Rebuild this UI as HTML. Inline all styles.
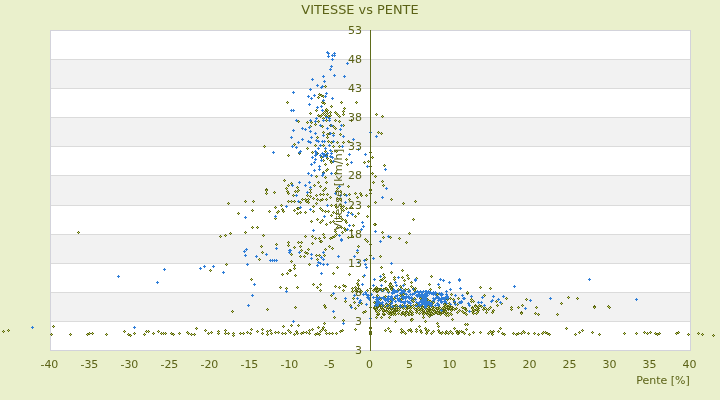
<!DOCTYPE html><html><head><meta charset="utf-8"><style>html,body{margin:0;padding:0;background:#EAF0CC;overflow:hidden}svg{display:block}</style></head><body><svg width="720" height="400" viewBox="0 0 720 400"><rect x="0" y="0" width="720" height="400" fill="#EAF0CC"/><rect x="50" y="30" width="641" height="321" fill="#ffffff"/><rect x="51" y="59" width="639" height="29" fill="#F2F2F2"/><rect x="51" y="117" width="639" height="29" fill="#F2F2F2"/><rect x="51" y="175" width="639" height="30" fill="#F2F2F2"/><rect x="51" y="234" width="639" height="29" fill="#F2F2F2"/><rect x="51" y="292" width="639" height="29" fill="#F2F2F2"/><rect x="51" y="59" width="639" height="1" fill="#DBDBDB"/><rect x="51" y="88" width="639" height="1" fill="#DBDBDB"/><rect x="51" y="117" width="639" height="1" fill="#DBDBDB"/><rect x="51" y="146" width="639" height="1" fill="#DBDBDB"/><rect x="51" y="175" width="639" height="1" fill="#DBDBDB"/><rect x="51" y="205" width="639" height="1" fill="#DBDBDB"/><rect x="51" y="234" width="639" height="1" fill="#DBDBDB"/><rect x="51" y="263" width="639" height="1" fill="#DBDBDB"/><rect x="51" y="292" width="639" height="1" fill="#DBDBDB"/><rect x="51" y="321" width="639" height="1" fill="#DBDBDB"/><rect x="50.5" y="30.5" width="640" height="320" fill="none" stroke="#D3D3DB" stroke-width="1"/><defs><g id="o"><path d="M-1 0h3v1h-3zM0 -1h1v3h-1z" fill="#5B6610"/><rect x="0" y="0" width="1" height="1" fill="#C8D76E"/></g><path id="b" d="M-1 0h3v1h-3zM0 -1h1v3h-1z" fill="#2F7ED8"/></defs><g shape-rendering="crispEdges"><use href="#o" x="325" y="86"/><use href="#o" x="319" y="94"/><use href="#o" x="321" y="95"/><use href="#o" x="318" y="97"/><use href="#o" x="323" y="96"/><use href="#o" x="322" y="102"/><use href="#o" x="324" y="103"/><use href="#o" x="341" y="102"/><use href="#o" x="356" y="102"/><use href="#o" x="331" y="106"/><use href="#o" x="344" y="108"/><use href="#o" x="343" y="111"/><use href="#o" x="343" y="114"/><use href="#o" x="316" y="110"/><use href="#o" x="310" y="113"/><use href="#o" x="326" y="109"/><use href="#o" x="327" y="110"/><use href="#o" x="325" y="111"/><use href="#o" x="330" y="112"/><use href="#o" x="323" y="113"/><use href="#o" x="327" y="113"/><use href="#o" x="330" y="115"/><use href="#o" x="321" y="115"/><use href="#o" x="318" y="115"/><use href="#o" x="325" y="115"/><use href="#o" x="328" y="116"/><use href="#o" x="335" y="112"/><use href="#o" x="336" y="113"/><use href="#o" x="337" y="114"/><use href="#o" x="339" y="116"/><use href="#o" x="320" y="116"/><use href="#o" x="323" y="118"/><use href="#o" x="326" y="120"/><use href="#o" x="335" y="120"/><use href="#o" x="339" y="121"/><use href="#o" x="351" y="120"/><use href="#o" x="376" y="114"/><use href="#o" x="298" y="121"/><use href="#o" x="307" y="122"/><use href="#o" x="311" y="122"/><use href="#o" x="318" y="121"/><use href="#o" x="315" y="124"/><use href="#o" x="310" y="126"/><use href="#o" x="322" y="126"/><use href="#o" x="330" y="125"/><use href="#o" x="333" y="126"/><use href="#o" x="335" y="128"/><use href="#o" x="343" y="125"/><use href="#o" x="323" y="132"/><use href="#o" x="327" y="134"/><use href="#o" x="329" y="133"/><use href="#o" x="327" y="137"/><use href="#o" x="317" y="137"/><use href="#o" x="340" y="134"/><use href="#o" x="333" y="133"/><use href="#o" x="378" y="132"/><use href="#o" x="287" y="102"/><use href="#o" x="294" y="144"/><use href="#o" x="307" y="148"/><use href="#o" x="315" y="145"/><use href="#o" x="323" y="145"/><use href="#o" x="328" y="141"/><use href="#o" x="331" y="142"/><use href="#o" x="333" y="146"/><use href="#o" x="337" y="142"/><use href="#o" x="343" y="142"/><use href="#o" x="348" y="141"/><use href="#o" x="339" y="146"/><use href="#o" x="312" y="152"/><use href="#o" x="317" y="153"/><use href="#o" x="325" y="151"/><use href="#o" x="331" y="151"/><use href="#o" x="299" y="153"/><use href="#o" x="326" y="155"/><use href="#o" x="321" y="157"/><use href="#o" x="330" y="160"/><use href="#o" x="323" y="160"/><use href="#o" x="327" y="158"/><use href="#o" x="336" y="151"/><use href="#o" x="346" y="159"/><use href="#o" x="347" y="164"/><use href="#o" x="331" y="162"/><use href="#o" x="325" y="164"/><use href="#o" x="327" y="169"/><use href="#o" x="326" y="170"/><use href="#o" x="323" y="172"/><use href="#o" x="335" y="173"/><use href="#o" x="316" y="176"/><use href="#o" x="325" y="177"/><use href="#o" x="318" y="182"/><use href="#o" x="326" y="182"/><use href="#o" x="320" y="186"/><use href="#o" x="314" y="185"/><use href="#o" x="291" y="183"/><use href="#o" x="297" y="187"/><use href="#o" x="310" y="189"/><use href="#o" x="325" y="188"/><use href="#o" x="337" y="188"/><use href="#o" x="348" y="186"/><use href="#o" x="364" y="162"/><use href="#o" x="368" y="161"/><use href="#o" x="372" y="157"/><use href="#o" x="372" y="173"/><use href="#o" x="375" y="176"/><use href="#o" x="373" y="182"/><use href="#o" x="370" y="152"/><use href="#o" x="370" y="166"/><use href="#o" x="370" y="189"/><use href="#o" x="264" y="146"/><use href="#o" x="288" y="155"/><use href="#o" x="284" y="180"/><use href="#o" x="288" y="185"/><use href="#o" x="286" y="188"/><use href="#o" x="266" y="189"/><use href="#o" x="295" y="191"/><use href="#o" x="297" y="191"/><use href="#o" x="298" y="190"/><use href="#o" x="310" y="192"/><use href="#o" x="323" y="190"/><use href="#o" x="336" y="191"/><use href="#o" x="340" y="191"/><use href="#o" x="293" y="195"/><use href="#o" x="307" y="195"/><use href="#o" x="310" y="196"/><use href="#o" x="316" y="195"/><use href="#o" x="320" y="194"/><use href="#o" x="323" y="194"/><use href="#o" x="327" y="194"/><use href="#o" x="344" y="194"/><use href="#o" x="349" y="194"/><use href="#o" x="355" y="193"/><use href="#o" x="360" y="193"/><use href="#o" x="361" y="195"/><use href="#o" x="366" y="195"/><use href="#o" x="291" y="201"/><use href="#o" x="294" y="201"/><use href="#o" x="302" y="199"/><use href="#o" x="305" y="199"/><use href="#o" x="308" y="199"/><use href="#o" x="313" y="198"/><use href="#o" x="317" y="199"/><use href="#o" x="320" y="200"/><use href="#o" x="322" y="199"/><use href="#o" x="326" y="199"/><use href="#o" x="330" y="197"/><use href="#o" x="337" y="198"/><use href="#o" x="340" y="199"/><use href="#o" x="349" y="199"/><use href="#o" x="357" y="197"/><use href="#o" x="375" y="202"/><use href="#o" x="300" y="202"/><use href="#o" x="306" y="201"/><use href="#o" x="308" y="202"/><use href="#o" x="316" y="203"/><use href="#o" x="335" y="205"/><use href="#o" x="340" y="205"/><use href="#o" x="343" y="206"/><use href="#o" x="368" y="206"/><use href="#o" x="294" y="210"/><use href="#o" x="297" y="208"/><use href="#o" x="298" y="208"/><use href="#o" x="313" y="206"/><use href="#o" x="320" y="208"/><use href="#o" x="322" y="210"/><use href="#o" x="325" y="211"/><use href="#o" x="328" y="211"/><use href="#o" x="331" y="205"/><use href="#o" x="336" y="207"/><use href="#o" x="341" y="208"/><use href="#o" x="343" y="210"/><use href="#o" x="346" y="208"/><use href="#o" x="351" y="207"/><use href="#o" x="297" y="213"/><use href="#o" x="300" y="212"/><use href="#o" x="305" y="212"/><use href="#o" x="313" y="211"/><use href="#o" x="333" y="212"/><use href="#o" x="336" y="213"/><use href="#o" x="331" y="215"/><use href="#o" x="339" y="216"/><use href="#o" x="351" y="213"/><use href="#o" x="355" y="216"/><use href="#o" x="358" y="213"/><use href="#o" x="367" y="216"/><use href="#o" x="311" y="221"/><use href="#o" x="317" y="219"/><use href="#o" x="320" y="222"/><use href="#o" x="322" y="220"/><use href="#o" x="326" y="224"/><use href="#o" x="330" y="222"/><use href="#o" x="333" y="221"/><use href="#o" x="345" y="220"/><use href="#o" x="346" y="222"/><use href="#o" x="342" y="219"/><use href="#o" x="375" y="224"/><use href="#o" x="353" y="225"/><use href="#o" x="337" y="227"/><use href="#o" x="341" y="227"/><use href="#o" x="344" y="228"/><use href="#o" x="345" y="230"/><use href="#o" x="342" y="232"/><use href="#o" x="335" y="231"/><use href="#o" x="336" y="234"/><use href="#o" x="334" y="236"/><use href="#o" x="332" y="237"/><use href="#o" x="330" y="238"/><use href="#o" x="305" y="236"/><use href="#o" x="312" y="236"/><use href="#o" x="315" y="238"/><use href="#o" x="323" y="234"/><use href="#o" x="324" y="237"/><use href="#o" x="319" y="238"/><use href="#o" x="351" y="230"/><use href="#o" x="352" y="236"/><use href="#o" x="348" y="237"/><use href="#o" x="365" y="239"/><use href="#o" x="266" y="190"/><use href="#o" x="266" y="193"/><use href="#o" x="274" y="192"/><use href="#o" x="287" y="191"/><use href="#o" x="288" y="193"/><use href="#o" x="228" y="203"/><use href="#o" x="245" y="201"/><use href="#o" x="253" y="201"/><use href="#o" x="288" y="201"/><use href="#o" x="275" y="207"/><use href="#o" x="281" y="205"/><use href="#o" x="282" y="209"/><use href="#o" x="283" y="211"/><use href="#o" x="269" y="211"/><use href="#o" x="278" y="211"/><use href="#o" x="277" y="212"/><use href="#o" x="252" y="210"/><use href="#o" x="238" y="213"/><use href="#o" x="275" y="218"/><use href="#o" x="252" y="227"/><use href="#o" x="257" y="227"/><use href="#o" x="230" y="233"/><use href="#o" x="225" y="235"/><use href="#o" x="220" y="236"/><use href="#o" x="245" y="232"/><use href="#o" x="263" y="235"/><use href="#o" x="298" y="242"/><use href="#o" x="301" y="242"/><use href="#o" x="312" y="243"/><use href="#o" x="320" y="241"/><use href="#o" x="321" y="241"/><use href="#o" x="367" y="241"/><use href="#o" x="294" y="247"/><use href="#o" x="300" y="246"/><use href="#o" x="301" y="250"/><use href="#o" x="308" y="249"/><use href="#o" x="305" y="252"/><use href="#o" x="307" y="253"/><use href="#o" x="300" y="256"/><use href="#o" x="304" y="256"/><use href="#o" x="316" y="255"/><use href="#o" x="319" y="255"/><use href="#o" x="317" y="259"/><use href="#o" x="324" y="255"/><use href="#o" x="325" y="249"/><use href="#o" x="329" y="246"/><use href="#o" x="332" y="248"/><use href="#o" x="358" y="246"/><use href="#o" x="357" y="252"/><use href="#o" x="366" y="259"/><use href="#o" x="370" y="244"/><use href="#o" x="370" y="255"/><use href="#o" x="291" y="254"/><use href="#o" x="291" y="261"/><use href="#o" x="294" y="265"/><use href="#o" x="294" y="268"/><use href="#o" x="290" y="270"/><use href="#o" x="309" y="264"/><use href="#o" x="337" y="267"/><use href="#o" x="333" y="273"/><use href="#o" x="349" y="274"/><use href="#o" x="295" y="275"/><use href="#o" x="363" y="276"/><use href="#o" x="358" y="280"/><use href="#o" x="357" y="283"/><use href="#o" x="358" y="285"/><use href="#o" x="313" y="284"/><use href="#o" x="320" y="284"/><use href="#o" x="317" y="287"/><use href="#o" x="297" y="287"/><use href="#o" x="335" y="286"/><use href="#o" x="339" y="287"/><use href="#o" x="343" y="285"/><use href="#o" x="345" y="286"/><use href="#o" x="352" y="288"/><use href="#o" x="355" y="287"/><use href="#o" x="358" y="288"/><use href="#o" x="370" y="288"/><use href="#o" x="377" y="288"/><use href="#o" x="226" y="264"/><use href="#o" x="210" y="270"/><use href="#o" x="261" y="246"/><use href="#o" x="276" y="244"/><use href="#o" x="262" y="252"/><use href="#o" x="259" y="259"/><use href="#o" x="251" y="279"/><use href="#o" x="282" y="274"/><use href="#o" x="287" y="273"/><use href="#o" x="289" y="270"/><use href="#o" x="280" y="287"/><use href="#o" x="286" y="288"/><use href="#o" x="288" y="242"/><use href="#o" x="288" y="245"/><use href="#o" x="295" y="307"/><use href="#o" x="324" y="305"/><use href="#o" x="325" y="307"/><use href="#o" x="331" y="295"/><use href="#o" x="335" y="298"/><use href="#o" x="345" y="301"/><use href="#o" x="334" y="317"/><use href="#o" x="343" y="320"/><use href="#o" x="352" y="291"/><use href="#o" x="355" y="290"/><use href="#o" x="357" y="291"/><use href="#o" x="360" y="292"/><use href="#o" x="361" y="291"/><use href="#o" x="353" y="298"/><use href="#o" x="354" y="302"/><use href="#o" x="358" y="305"/><use href="#o" x="361" y="303"/><use href="#o" x="350" y="305"/><use href="#o" x="355" y="308"/><use href="#o" x="363" y="312"/><use href="#o" x="365" y="311"/><use href="#o" x="376" y="317"/><use href="#o" x="370" y="307"/><use href="#o" x="370" y="328"/><use href="#o" x="370" y="332"/><use href="#o" x="370" y="334"/><use href="#o" x="376" y="291"/><use href="#o" x="377" y="295"/><use href="#o" x="377" y="307"/><use href="#o" x="291" y="325"/><use href="#o" x="298" y="325"/><use href="#o" x="324" y="323"/><use href="#o" x="318" y="327"/><use href="#o" x="323" y="327"/><use href="#o" x="290" y="332"/><use href="#o" x="294" y="334"/><use href="#o" x="296" y="331"/><use href="#o" x="297" y="333"/><use href="#o" x="301" y="333"/><use href="#o" x="303" y="332"/><use href="#o" x="306" y="332"/><use href="#o" x="309" y="330"/><use href="#o" x="309" y="333"/><use href="#o" x="312" y="329"/><use href="#o" x="315" y="334"/><use href="#o" x="317" y="333"/><use href="#o" x="319" y="334"/><use href="#o" x="320" y="331"/><use href="#o" x="322" y="329"/><use href="#o" x="325" y="330"/><use href="#o" x="326" y="333"/><use href="#o" x="329" y="333"/><use href="#o" x="332" y="333"/><use href="#o" x="336" y="333"/><use href="#o" x="340" y="331"/><use href="#o" x="342" y="330"/><use href="#o" x="355" y="329"/><use href="#o" x="320" y="290"/><use href="#o" x="343" y="290"/><use href="#o" x="232" y="311"/><use href="#o" x="267" y="309"/><use href="#o" x="205" y="330"/><use href="#o" x="208" y="333"/><use href="#o" x="211" y="332"/><use href="#o" x="218" y="331"/><use href="#o" x="218" y="333"/><use href="#o" x="225" y="330"/><use href="#o" x="225" y="333"/><use href="#o" x="228" y="333"/><use href="#o" x="233" y="333"/><use href="#o" x="233" y="335"/><use href="#o" x="240" y="333"/><use href="#o" x="243" y="333"/><use href="#o" x="247" y="332"/><use href="#o" x="250" y="333"/><use href="#o" x="251" y="329"/><use href="#o" x="257" y="331"/><use href="#o" x="262" y="329"/><use href="#o" x="262" y="333"/><use href="#o" x="267" y="331"/><use href="#o" x="267" y="334"/><use href="#o" x="270" y="330"/><use href="#o" x="271" y="333"/><use href="#o" x="275" y="332"/><use href="#o" x="278" y="332"/><use href="#o" x="282" y="333"/><use href="#o" x="285" y="333"/><use href="#o" x="283" y="326"/><use href="#o" x="288" y="330"/><use href="#o" x="406" y="242"/><use href="#o" x="380" y="256"/><use href="#o" x="381" y="267"/><use href="#o" x="391" y="272"/><use href="#o" x="402" y="270"/><use href="#o" x="383" y="274"/><use href="#o" x="384" y="277"/><use href="#o" x="382" y="279"/><use href="#o" x="380" y="280"/><use href="#o" x="385" y="281"/><use href="#o" x="394" y="277"/><use href="#o" x="394" y="279"/><use href="#o" x="402" y="277"/><use href="#o" x="407" y="275"/><use href="#o" x="408" y="278"/><use href="#o" x="404" y="280"/><use href="#o" x="416" y="278"/><use href="#o" x="431" y="276"/><use href="#o" x="411" y="282"/><use href="#o" x="390" y="283"/><use href="#o" x="389" y="285"/><use href="#o" x="392" y="286"/><use href="#o" x="391" y="288"/><use href="#o" x="404" y="284"/><use href="#o" x="400" y="286"/><use href="#o" x="411" y="286"/><use href="#o" x="413" y="288"/><use href="#o" x="429" y="284"/><use href="#o" x="439" y="287"/><use href="#o" x="430" y="289"/><use href="#o" x="383" y="289"/><use href="#o" x="381" y="289"/><use href="#o" x="408" y="289"/><use href="#o" x="480" y="287"/><use href="#o" x="490" y="288"/><use href="#o" x="467" y="293"/><use href="#o" x="484" y="295"/><use href="#o" x="471" y="299"/><use href="#o" x="471" y="301"/><use href="#o" x="506" y="298"/><use href="#o" x="496" y="301"/><use href="#o" x="497" y="305"/><use href="#o" x="501" y="303"/><use href="#o" x="526" y="299"/><use href="#o" x="522" y="305"/><use href="#o" x="518" y="307"/><use href="#o" x="511" y="307"/><use href="#o" x="511" y="309"/><use href="#o" x="536" y="307"/><use href="#o" x="521" y="312"/><use href="#o" x="521" y="313"/><use href="#o" x="535" y="313"/><use href="#o" x="538" y="314"/><use href="#o" x="462" y="307"/><use href="#o" x="464" y="308"/><use href="#o" x="465" y="308"/><use href="#o" x="462" y="311"/><use href="#o" x="465" y="313"/><use href="#o" x="472" y="307"/><use href="#o" x="473" y="309"/><use href="#o" x="475" y="305"/><use href="#o" x="478" y="306"/><use href="#o" x="476" y="309"/><use href="#o" x="478" y="308"/><use href="#o" x="481" y="306"/><use href="#o" x="483" y="309"/><use href="#o" x="484" y="307"/><use href="#o" x="486" y="309"/><use href="#o" x="490" y="307"/><use href="#o" x="488" y="309"/><use href="#o" x="486" y="312"/><use href="#o" x="493" y="310"/><use href="#o" x="492" y="312"/><use href="#o" x="472" y="311"/><use href="#o" x="476" y="313"/><use href="#o" x="473" y="313"/><use href="#o" x="477" y="312"/><use href="#o" x="568" y="297"/><use href="#o" x="577" y="298"/><use href="#o" x="561" y="303"/><use href="#o" x="594" y="306"/><use href="#o" x="594" y="307"/><use href="#o" x="608" y="306"/><use href="#o" x="609" y="307"/><use href="#o" x="557" y="314"/><use href="#o" x="566" y="328"/><use href="#o" x="542" y="333"/><use href="#o" x="545" y="332"/><use href="#o" x="547" y="333"/><use href="#o" x="549" y="334"/><use href="#o" x="575" y="334"/><use href="#o" x="579" y="332"/><use href="#o" x="582" y="330"/><use href="#o" x="592" y="332"/><use href="#o" x="599" y="334"/><use href="#o" x="624" y="333"/><use href="#o" x="636" y="333"/><use href="#o" x="644" y="332"/><use href="#o" x="647" y="333"/><use href="#o" x="650" y="332"/><use href="#o" x="655" y="333"/><use href="#o" x="657" y="334"/><use href="#o" x="659" y="333"/><use href="#o" x="676" y="333"/><use href="#o" x="678" y="332"/><use href="#o" x="688" y="334"/><use href="#o" x="698" y="333"/><use href="#o" x="702" y="334"/><use href="#o" x="713" y="335"/><use href="#o" x="376" y="317"/><use href="#o" x="381" y="317"/><use href="#o" x="389" y="317"/><use href="#o" x="405" y="315"/><use href="#o" x="429" y="316"/><use href="#o" x="446" y="315"/><use href="#o" x="423" y="317"/><use href="#o" x="411" y="319"/><use href="#o" x="412" y="319"/><use href="#o" x="425" y="321"/><use href="#o" x="452" y="319"/><use href="#o" x="395" y="321"/><use href="#o" x="437" y="323"/><use href="#o" x="385" y="330"/><use href="#o" x="388" y="328"/><use href="#o" x="390" y="331"/><use href="#o" x="401" y="329"/><use href="#o" x="401" y="332"/><use href="#o" x="403" y="331"/><use href="#o" x="405" y="333"/><use href="#o" x="408" y="330"/><use href="#o" x="410" y="329"/><use href="#o" x="411" y="331"/><use href="#o" x="416" y="329"/><use href="#o" x="416" y="331"/><use href="#o" x="419" y="326"/><use href="#o" x="420" y="330"/><use href="#o" x="421" y="332"/><use href="#o" x="425" y="328"/><use href="#o" x="426" y="330"/><use href="#o" x="427" y="331"/><use href="#o" x="426" y="333"/><use href="#o" x="428" y="330"/><use href="#o" x="431" y="333"/><use href="#o" x="433" y="331"/><use href="#o" x="438" y="326"/><use href="#o" x="438" y="330"/><use href="#o" x="439" y="332"/><use href="#o" x="441" y="333"/><use href="#o" x="442" y="332"/><use href="#o" x="445" y="333"/><use href="#o" x="446" y="331"/><use href="#o" x="448" y="333"/><use href="#o" x="450" y="331"/><use href="#o" x="452" y="333"/><use href="#o" x="454" y="328"/><use href="#o" x="457" y="331"/><use href="#o" x="458" y="333"/><use href="#o" x="465" y="324"/><use href="#o" x="467" y="324"/><use href="#o" x="466" y="329"/><use href="#o" x="456" y="331"/><use href="#o" x="457" y="333"/><use href="#o" x="459" y="331"/><use href="#o" x="461" y="331"/><use href="#o" x="463" y="332"/><use href="#o" x="464" y="333"/><use href="#o" x="469" y="334"/><use href="#o" x="473" y="332"/><use href="#o" x="480" y="332"/><use href="#o" x="488" y="333"/><use href="#o" x="490" y="331"/><use href="#o" x="491" y="332"/><use href="#o" x="492" y="334"/><use href="#o" x="493" y="331"/><use href="#o" x="498" y="331"/><use href="#o" x="500" y="328"/><use href="#o" x="502" y="333"/><use href="#o" x="504" y="334"/><use href="#o" x="513" y="333"/><use href="#o" x="516" y="334"/><use href="#o" x="518" y="333"/><use href="#o" x="521" y="333"/><use href="#o" x="523" y="331"/><use href="#o" x="524" y="332"/><use href="#o" x="528" y="333"/><use href="#o" x="534" y="333"/><use href="#o" x="538" y="334"/><use href="#o" x="542" y="333"/><use href="#o" x="543" y="332"/><use href="#o" x="78" y="232"/><use href="#o" x="3" y="331"/><use href="#o" x="8" y="330"/><use href="#o" x="53" y="326"/><use href="#o" x="51" y="334"/><use href="#o" x="70" y="334"/><use href="#o" x="87" y="334"/><use href="#o" x="89" y="333"/><use href="#o" x="92" y="333"/><use href="#o" x="106" y="334"/><use href="#o" x="124" y="331"/><use href="#o" x="128" y="334"/><use href="#o" x="130" y="335"/><use href="#o" x="134" y="333"/><use href="#o" x="144" y="334"/><use href="#o" x="146" y="331"/><use href="#o" x="148" y="331"/><use href="#o" x="153" y="333"/><use href="#o" x="158" y="331"/><use href="#o" x="161" y="333"/><use href="#o" x="163" y="333"/><use href="#o" x="165" y="333"/><use href="#o" x="171" y="333"/><use href="#o" x="173" y="334"/><use href="#o" x="179" y="333"/><use href="#o" x="187" y="332"/><use href="#o" x="188" y="333"/><use href="#o" x="191" y="334"/><use href="#o" x="194" y="334"/><use href="#o" x="196" y="328"/><use href="#o" x="382" y="116"/><use href="#o" x="381" y="133"/><use href="#o" x="384" y="165"/><use href="#o" x="382" y="181"/><use href="#o" x="383" y="185"/><use href="#o" x="391" y="199"/><use href="#o" x="370" y="190"/><use href="#o" x="370" y="193"/><use href="#o" x="403" y="203"/><use href="#o" x="415" y="201"/><use href="#o" x="413" y="219"/><use href="#o" x="374" y="224"/><use href="#o" x="382" y="232"/><use href="#o" x="409" y="233"/><use href="#o" x="383" y="237"/><use href="#o" x="390" y="237"/><use href="#o" x="399" y="238"/><use href="#o" x="406" y="242"/><use href="#o" x="429" y="284"/><use href="#o" x="439" y="287"/><use href="#o" x="430" y="289"/><use href="#o" x="451" y="294"/><use href="#o" x="467" y="292"/><use href="#o" x="480" y="287"/><use href="#o" x="426" y="298"/><use href="#o" x="428" y="300"/><use href="#o" x="430" y="301"/><use href="#o" x="432" y="303"/><use href="#o" x="422" y="306"/><use href="#o" x="421" y="309"/><use href="#o" x="423" y="310"/><use href="#o" x="425" y="308"/><use href="#o" x="427" y="310"/><use href="#o" x="429" y="309"/><use href="#o" x="424" y="312"/><use href="#o" x="428" y="312"/><use href="#o" x="430" y="314"/><use href="#o" x="433" y="310"/><use href="#o" x="435" y="311"/><use href="#o" x="436" y="308"/><use href="#o" x="437" y="313"/><use href="#o" x="439" y="309"/><use href="#o" x="440" y="312"/><use href="#o" x="443" y="307"/><use href="#o" x="445" y="310"/><use href="#o" x="446" y="312"/><use href="#o" x="447" y="308"/><use href="#o" x="448" y="315"/><use href="#o" x="446" y="306"/><use href="#o" x="449" y="303"/><use href="#o" x="447" y="299"/><use href="#o" x="450" y="298"/><use href="#o" x="453" y="299"/><use href="#o" x="454" y="302"/><use href="#o" x="457" y="304"/><use href="#o" x="458" y="298"/><use href="#o" x="452" y="307"/><use href="#o" x="454" y="309"/><use href="#o" x="456" y="308"/><use href="#o" x="457" y="312"/><use href="#o" x="459" y="310"/><use href="#o" x="462" y="307"/><use href="#o" x="464" y="308"/><use href="#o" x="463" y="312"/><use href="#o" x="466" y="310"/><use href="#o" x="466" y="314"/><use href="#o" x="471" y="299"/><use href="#o" x="473" y="301"/><use href="#o" x="472" y="308"/><use href="#o" x="474" y="310"/><use href="#o" x="475" y="306"/><use href="#o" x="476" y="313"/><use href="#o" x="477" y="308"/><use href="#o" x="479" y="305"/><use href="#o" x="478" y="310"/><use href="#o" x="423" y="317"/><use href="#o" x="452" y="319"/><use href="#o" x="422" y="303"/><use href="#o" x="426" y="301"/><use href="#o" x="390" y="284"/><use href="#o" x="392" y="286"/><use href="#o" x="377" y="289"/><use href="#o" x="380" y="289"/><use href="#o" x="384" y="289"/><use href="#o" x="400" y="286"/><use href="#o" x="401" y="288"/><use href="#o" x="404" y="284"/><use href="#o" x="411" y="282"/><use href="#o" x="411" y="286"/><use href="#o" x="415" y="288"/><use href="#o" x="367" y="290"/><use href="#o" x="376" y="317"/><use href="#o" x="381" y="317"/><use href="#o" x="389" y="317"/><use href="#o" x="384" y="314"/><use href="#o" x="383" y="311"/><use href="#o" x="423" y="317"/><use href="#o" x="395" y="321"/><use href="#o" x="411" y="320"/><use href="#o" x="412" y="319"/><use href="#o" x="370" y="327"/><use href="#o" x="370" y="328"/><use href="#o" x="370" y="331"/><use href="#o" x="370" y="332"/><use href="#o" x="370" y="333"/><use href="#o" x="370" y="334"/><use href="#o" x="432" y="313"/><use href="#o" x="383" y="314"/><use href="#o" x="429" y="314"/><use href="#o" x="396" y="308"/><use href="#o" x="404" y="314"/><use href="#o" x="419" y="308"/><use href="#o" x="407" y="307"/><use href="#o" x="377" y="306"/><use href="#o" x="439" y="307"/><use href="#o" x="446" y="307"/><use href="#o" x="394" y="310"/><use href="#o" x="388" y="308"/><use href="#o" x="448" y="313"/><use href="#o" x="437" y="311"/><use href="#o" x="445" y="314"/><use href="#o" x="416" y="312"/><use href="#o" x="377" y="312"/><use href="#o" x="409" y="312"/><use href="#o" x="424" y="307"/><use href="#o" x="377" y="314"/><use href="#o" x="383" y="309"/><use href="#o" x="400" y="307"/><use href="#o" x="431" y="314"/><use href="#o" x="394" y="311"/><use href="#o" x="397" y="310"/><use href="#o" x="404" y="306"/><use href="#o" x="386" y="307"/><use href="#o" x="444" y="309"/><use href="#o" x="391" y="314"/><use href="#o" x="451" y="309"/><use href="#o" x="384" y="306"/><use href="#o" x="381" y="308"/><use href="#o" x="381" y="307"/><use href="#o" x="394" y="310"/><use href="#o" x="443" y="312"/><use href="#o" x="406" y="309"/><use href="#o" x="414" y="308"/><use href="#o" x="400" y="305"/><use href="#o" x="395" y="314"/><use href="#o" x="383" y="310"/><use href="#o" x="423" y="313"/><use href="#o" x="390" y="307"/><use href="#o" x="393" y="308"/><use href="#o" x="408" y="314"/><use href="#o" x="440" y="313"/><use href="#o" x="375" y="305"/><use href="#o" x="429" y="313"/><use href="#o" x="410" y="310"/><use href="#o" x="374" y="308"/><use href="#o" x="446" y="313"/><use href="#o" x="440" y="314"/><use href="#o" x="393" y="306"/><use href="#o" x="386" y="310"/><use href="#o" x="427" y="314"/><use href="#o" x="430" y="311"/><use href="#o" x="433" y="309"/><use href="#o" x="417" y="305"/><use href="#o" x="435" y="307"/><use href="#o" x="445" y="311"/><use href="#o" x="397" y="306"/><use href="#o" x="393" y="311"/><use href="#o" x="428" y="306"/><use href="#o" x="379" y="310"/><use href="#o" x="419" y="308"/><use href="#o" x="391" y="311"/><use href="#o" x="374" y="308"/><use href="#o" x="409" y="314"/><use href="#o" x="424" y="313"/><use href="#o" x="411" y="307"/><use href="#o" x="393" y="314"/><use href="#o" x="428" y="308"/><use href="#o" x="375" y="309"/><use href="#o" x="426" y="309"/><use href="#o" x="394" y="311"/><use href="#o" x="446" y="307"/><use href="#o" x="376" y="308"/><use href="#o" x="406" y="311"/><use href="#o" x="389" y="312"/><use href="#o" x="431" y="310"/><use href="#o" x="390" y="314"/><use href="#o" x="398" y="313"/><use href="#o" x="392" y="307"/><use href="#o" x="433" y="307"/><use href="#o" x="448" y="309"/><use href="#o" x="388" y="307"/><use href="#o" x="406" y="311"/><use href="#o" x="448" y="306"/><use href="#o" x="404" y="307"/><use href="#o" x="449" y="306"/><use href="#o" x="378" y="305"/><use href="#o" x="404" y="313"/><use href="#o" x="442" y="312"/><use href="#o" x="451" y="314"/><use href="#o" x="399" y="306"/><use href="#o" x="446" y="312"/><use href="#o" x="376" y="311"/><use href="#o" x="403" y="308"/><use href="#o" x="399" y="306"/><use href="#o" x="374" y="307"/><use href="#o" x="401" y="314"/><use href="#o" x="383" y="314"/><use href="#o" x="390" y="308"/><use href="#o" x="438" y="313"/><use href="#o" x="407" y="305"/><use href="#o" x="410" y="308"/><use href="#o" x="445" y="306"/><use href="#o" x="402" y="313"/><use href="#o" x="376" y="309"/><use href="#o" x="437" y="312"/><use href="#o" x="377" y="305"/><use href="#o" x="378" y="314"/><use href="#o" x="394" y="312"/><use href="#o" x="444" y="308"/><use href="#o" x="395" y="314"/><use href="#o" x="422" y="307"/><use href="#o" x="429" y="308"/><use href="#o" x="395" y="305"/><use href="#o" x="432" y="314"/><use href="#o" x="423" y="314"/><use href="#o" x="375" y="307"/><use href="#o" x="411" y="314"/><use href="#o" x="448" y="308"/><use href="#o" x="393" y="309"/><use href="#o" x="412" y="314"/><use href="#o" x="388" y="313"/><use href="#o" x="431" y="313"/><use href="#o" x="434" y="311"/><use href="#o" x="399" y="308"/><use href="#o" x="402" y="312"/><use href="#o" x="380" y="306"/><use href="#o" x="432" y="307"/><use href="#o" x="379" y="305"/><use href="#o" x="417" y="308"/><use href="#o" x="450" y="313"/><use href="#o" x="451" y="307"/><use href="#o" x="380" y="305"/><use href="#o" x="412" y="312"/><use href="#o" x="408" y="307"/><use href="#o" x="406" y="311"/><use href="#o" x="426" y="312"/><use href="#o" x="440" y="311"/><use href="#o" x="383" y="313"/><use href="#o" x="396" y="310"/><use href="#o" x="403" y="312"/><use href="#o" x="389" y="307"/><use href="#o" x="393" y="306"/><use href="#o" x="442" y="310"/><use href="#o" x="399" y="308"/><use href="#o" x="451" y="310"/><use href="#o" x="392" y="313"/><use href="#b" x="327" y="52"/><use href="#b" x="328" y="53"/><use href="#b" x="328" y="56"/><use href="#b" x="334" y="53"/><use href="#b" x="332" y="55"/><use href="#b" x="334" y="55"/><use href="#b" x="332" y="59"/><use href="#b" x="347" y="63"/><use href="#b" x="331" y="66"/><use href="#b" x="330" y="69"/><use href="#b" x="323" y="76"/><use href="#b" x="334" y="75"/><use href="#b" x="344" y="76"/><use href="#b" x="312" y="79"/><use href="#b" x="324" y="81"/><use href="#b" x="317" y="85"/><use href="#b" x="322" y="86"/><use href="#b" x="321" y="87"/><use href="#b" x="310" y="89"/><use href="#b" x="293" y="92"/><use href="#b" x="308" y="96"/><use href="#b" x="314" y="95"/><use href="#b" x="311" y="98"/><use href="#b" x="326" y="93"/><use href="#b" x="325" y="96"/><use href="#b" x="332" y="98"/><use href="#b" x="323" y="100"/><use href="#b" x="309" y="104"/><use href="#b" x="321" y="106"/><use href="#b" x="317" y="107"/><use href="#b" x="322" y="110"/><use href="#b" x="291" y="110"/><use href="#b" x="293" y="110"/><use href="#b" x="326" y="117"/><use href="#b" x="329" y="118"/><use href="#b" x="316" y="118"/><use href="#b" x="323" y="120"/><use href="#b" x="329" y="120"/><use href="#b" x="296" y="120"/><use href="#b" x="310" y="120"/><use href="#b" x="315" y="121"/><use href="#b" x="320" y="125"/><use href="#b" x="309" y="127"/><use href="#b" x="302" y="128"/><use href="#b" x="305" y="129"/><use href="#b" x="293" y="130"/><use href="#b" x="327" y="128"/><use href="#b" x="331" y="125"/><use href="#b" x="341" y="125"/><use href="#b" x="340" y="129"/><use href="#b" x="310" y="131"/><use href="#b" x="315" y="133"/><use href="#b" x="330" y="133"/><use href="#b" x="323" y="135"/><use href="#b" x="333" y="135"/><use href="#b" x="343" y="136"/><use href="#b" x="311" y="137"/><use href="#b" x="302" y="139"/><use href="#b" x="291" y="137"/><use href="#b" x="353" y="139"/><use href="#b" x="370" y="132"/><use href="#b" x="376" y="136"/><use href="#b" x="298" y="142"/><use href="#b" x="308" y="141"/><use href="#b" x="310" y="142"/><use href="#b" x="316" y="140"/><use href="#b" x="318" y="141"/><use href="#b" x="322" y="141"/><use href="#b" x="324" y="141"/><use href="#b" x="333" y="141"/><use href="#b" x="292" y="146"/><use href="#b" x="296" y="147"/><use href="#b" x="320" y="145"/><use href="#b" x="329" y="145"/><use href="#b" x="342" y="146"/><use href="#b" x="318" y="148"/><use href="#b" x="325" y="148"/><use href="#b" x="330" y="150"/><use href="#b" x="300" y="151"/><use href="#b" x="299" y="152"/><use href="#b" x="315" y="151"/><use href="#b" x="316" y="153"/><use href="#b" x="315" y="155"/><use href="#b" x="322" y="153"/><use href="#b" x="324" y="154"/><use href="#b" x="327" y="153"/><use href="#b" x="331" y="153"/><use href="#b" x="320" y="155"/><use href="#b" x="323" y="156"/><use href="#b" x="326" y="156"/><use href="#b" x="330" y="156"/><use href="#b" x="332" y="157"/><use href="#b" x="312" y="157"/><use href="#b" x="315" y="159"/><use href="#b" x="321" y="160"/><use href="#b" x="314" y="162"/><use href="#b" x="333" y="161"/><use href="#b" x="311" y="164"/><use href="#b" x="319" y="166"/><use href="#b" x="319" y="169"/><use href="#b" x="314" y="170"/><use href="#b" x="331" y="173"/><use href="#b" x="308" y="173"/><use href="#b" x="311" y="175"/><use href="#b" x="323" y="173"/><use href="#b" x="322" y="175"/><use href="#b" x="349" y="154"/><use href="#b" x="351" y="162"/><use href="#b" x="358" y="149"/><use href="#b" x="365" y="154"/><use href="#b" x="367" y="166"/><use href="#b" x="299" y="182"/><use href="#b" x="309" y="182"/><use href="#b" x="305" y="185"/><use href="#b" x="310" y="187"/><use href="#b" x="292" y="185"/><use href="#b" x="339" y="186"/><use href="#b" x="273" y="152"/><use href="#b" x="307" y="192"/><use href="#b" x="296" y="195"/><use href="#b" x="298" y="201"/><use href="#b" x="300" y="207"/><use href="#b" x="310" y="209"/><use href="#b" x="327" y="205"/><use href="#b" x="335" y="193"/><use href="#b" x="340" y="195"/><use href="#b" x="346" y="195"/><use href="#b" x="345" y="202"/><use href="#b" x="348" y="212"/><use href="#b" x="347" y="215"/><use href="#b" x="352" y="214"/><use href="#b" x="324" y="216"/><use href="#b" x="362" y="222"/><use href="#b" x="363" y="226"/><use href="#b" x="361" y="229"/><use href="#b" x="349" y="225"/><use href="#b" x="347" y="229"/><use href="#b" x="313" y="230"/><use href="#b" x="339" y="235"/><use href="#b" x="341" y="239"/><use href="#b" x="375" y="231"/><use href="#b" x="245" y="217"/><use href="#b" x="275" y="216"/><use href="#b" x="286" y="206"/><use href="#b" x="299" y="252"/><use href="#b" x="290" y="250"/><use href="#b" x="311" y="254"/><use href="#b" x="311" y="258"/><use href="#b" x="323" y="252"/><use href="#b" x="321" y="257"/><use href="#b" x="323" y="259"/><use href="#b" x="318" y="262"/><use href="#b" x="320" y="263"/><use href="#b" x="317" y="265"/><use href="#b" x="323" y="264"/><use href="#b" x="327" y="264"/><use href="#b" x="321" y="273"/><use href="#b" x="338" y="256"/><use href="#b" x="354" y="256"/><use href="#b" x="357" y="250"/><use href="#b" x="358" y="262"/><use href="#b" x="364" y="260"/><use href="#b" x="365" y="264"/><use href="#b" x="366" y="267"/><use href="#b" x="373" y="258"/><use href="#b" x="364" y="275"/><use href="#b" x="362" y="284"/><use href="#b" x="374" y="279"/><use href="#b" x="373" y="285"/><use href="#b" x="341" y="240"/><use href="#b" x="200" y="268"/><use href="#b" x="204" y="266"/><use href="#b" x="213" y="266"/><use href="#b" x="223" y="272"/><use href="#b" x="244" y="251"/><use href="#b" x="246" y="249"/><use href="#b" x="245" y="255"/><use href="#b" x="247" y="264"/><use href="#b" x="256" y="256"/><use href="#b" x="266" y="254"/><use href="#b" x="276" y="248"/><use href="#b" x="270" y="260"/><use href="#b" x="272" y="260"/><use href="#b" x="274" y="260"/><use href="#b" x="276" y="260"/><use href="#b" x="254" y="284"/><use href="#b" x="289" y="250"/><use href="#b" x="289" y="252"/><use href="#b" x="333" y="293"/><use href="#b" x="345" y="298"/><use href="#b" x="333" y="311"/><use href="#b" x="293" y="321"/><use href="#b" x="343" y="323"/><use href="#b" x="354" y="295"/><use href="#b" x="357" y="298"/><use href="#b" x="360" y="300"/><use href="#b" x="359" y="302"/><use href="#b" x="351" y="307"/><use href="#b" x="365" y="292"/><use href="#b" x="363" y="294"/><use href="#b" x="366" y="304"/><use href="#b" x="367" y="297"/><use href="#b" x="370" y="295"/><use href="#b" x="373" y="297"/><use href="#b" x="376" y="301"/><use href="#b" x="377" y="303"/><use href="#b" x="378" y="302"/><use href="#b" x="375" y="305"/><use href="#b" x="370" y="318"/><use href="#b" x="252" y="295"/><use href="#b" x="248" y="305"/><use href="#b" x="286" y="291"/><use href="#b" x="380" y="241"/><use href="#b" x="391" y="263"/><use href="#b" x="380" y="276"/><use href="#b" x="398" y="277"/><use href="#b" x="395" y="282"/><use href="#b" x="396" y="285"/><use href="#b" x="403" y="285"/><use href="#b" x="415" y="279"/><use href="#b" x="415" y="280"/><use href="#b" x="440" y="279"/><use href="#b" x="443" y="280"/><use href="#b" x="449" y="282"/><use href="#b" x="459" y="279"/><use href="#b" x="438" y="284"/><use href="#b" x="460" y="288"/><use href="#b" x="450" y="289"/><use href="#b" x="381" y="285"/><use href="#b" x="393" y="289"/><use href="#b" x="400" y="289"/><use href="#b" x="413" y="289"/><use href="#b" x="514" y="286"/><use href="#b" x="462" y="295"/><use href="#b" x="463" y="298"/><use href="#b" x="461" y="301"/><use href="#b" x="460" y="302"/><use href="#b" x="471" y="296"/><use href="#b" x="482" y="297"/><use href="#b" x="493" y="296"/><use href="#b" x="492" y="300"/><use href="#b" x="491" y="301"/><use href="#b" x="498" y="299"/><use href="#b" x="500" y="302"/><use href="#b" x="503" y="296"/><use href="#b" x="478" y="302"/><use href="#b" x="481" y="302"/><use href="#b" x="484" y="305"/><use href="#b" x="468" y="303"/><use href="#b" x="469" y="305"/><use href="#b" x="469" y="311"/><use href="#b" x="525" y="308"/><use href="#b" x="530" y="300"/><use href="#b" x="589" y="279"/><use href="#b" x="550" y="298"/><use href="#b" x="636" y="299"/><use href="#b" x="32" y="327"/><use href="#b" x="118" y="276"/><use href="#b" x="157" y="282"/><use href="#b" x="164" y="269"/><use href="#b" x="134" y="327"/><use href="#b" x="385" y="169"/><use href="#b" x="386" y="188"/><use href="#b" x="382" y="197"/><use href="#b" x="388" y="236"/><use href="#b" x="380" y="241"/><use href="#b" x="443" y="280"/><use href="#b" x="449" y="282"/><use href="#b" x="438" y="284"/><use href="#b" x="450" y="289"/><use href="#b" x="460" y="288"/><use href="#b" x="459" y="280"/><use href="#b" x="423" y="291"/><use href="#b" x="425" y="291"/><use href="#b" x="421" y="294"/><use href="#b" x="424" y="295"/><use href="#b" x="422" y="297"/><use href="#b" x="423" y="299"/><use href="#b" x="421" y="301"/><use href="#b" x="424" y="303"/><use href="#b" x="426" y="305"/><use href="#b" x="425" y="307"/><use href="#b" x="430" y="292"/><use href="#b" x="431" y="293"/><use href="#b" x="435" y="293"/><use href="#b" x="436" y="295"/><use href="#b" x="441" y="293"/><use href="#b" x="441" y="295"/><use href="#b" x="438" y="297"/><use href="#b" x="440" y="299"/><use href="#b" x="433" y="298"/><use href="#b" x="433" y="300"/><use href="#b" x="443" y="298"/><use href="#b" x="445" y="297"/><use href="#b" x="447" y="296"/><use href="#b" x="444" y="301"/><use href="#b" x="446" y="303"/><use href="#b" x="435" y="305"/><use href="#b" x="430" y="305"/><use href="#b" x="455" y="295"/><use href="#b" x="462" y="295"/><use href="#b" x="464" y="298"/><use href="#b" x="461" y="302"/><use href="#b" x="459" y="302"/><use href="#b" x="454" y="301"/><use href="#b" x="455" y="304"/><use href="#b" x="450" y="304"/><use href="#b" x="468" y="303"/><use href="#b" x="469" y="305"/><use href="#b" x="471" y="296"/><use href="#b" x="478" y="302"/><use href="#b" x="441" y="310"/><use href="#b" x="469" y="311"/><use href="#b" x="373" y="285"/><use href="#b" x="381" y="285"/><use href="#b" x="395" y="282"/><use href="#b" x="396" y="285"/><use href="#b" x="403" y="285"/><use href="#b" x="370" y="318"/><use href="#b" x="392" y="292"/><use href="#b" x="409" y="291"/><use href="#b" x="403" y="296"/><use href="#b" x="378" y="298"/><use href="#b" x="425" y="299"/><use href="#b" x="396" y="306"/><use href="#b" x="377" y="304"/><use href="#b" x="391" y="303"/><use href="#b" x="384" y="299"/><use href="#b" x="408" y="296"/><use href="#b" x="404" y="291"/><use href="#b" x="397" y="295"/><use href="#b" x="406" y="297"/><use href="#b" x="390" y="303"/><use href="#b" x="412" y="294"/><use href="#b" x="405" y="298"/><use href="#b" x="421" y="302"/><use href="#b" x="390" y="306"/><use href="#b" x="383" y="298"/><use href="#b" x="377" y="301"/><use href="#b" x="415" y="299"/><use href="#b" x="421" y="295"/><use href="#b" x="411" y="300"/><use href="#b" x="405" y="297"/><use href="#b" x="419" y="306"/><use href="#b" x="400" y="301"/><use href="#b" x="378" y="301"/><use href="#b" x="409" y="306"/><use href="#b" x="418" y="294"/><use href="#b" x="395" y="301"/><use href="#b" x="376" y="297"/><use href="#b" x="415" y="292"/><use href="#b" x="388" y="296"/><use href="#b" x="379" y="297"/><use href="#b" x="404" y="305"/><use href="#b" x="418" y="304"/><use href="#b" x="421" y="306"/><use href="#b" x="387" y="298"/><use href="#b" x="406" y="294"/><use href="#b" x="405" y="306"/><use href="#b" x="411" y="298"/><use href="#b" x="407" y="301"/><use href="#b" x="377" y="305"/><use href="#b" x="416" y="304"/><use href="#b" x="417" y="296"/><use href="#b" x="396" y="291"/><use href="#b" x="408" y="291"/><use href="#b" x="393" y="290"/><use href="#b" x="394" y="290"/><use href="#b" x="421" y="300"/><use href="#b" x="394" y="292"/><use href="#b" x="419" y="306"/><use href="#b" x="399" y="298"/><use href="#b" x="389" y="304"/><use href="#b" x="383" y="290"/><use href="#b" x="402" y="292"/><use href="#b" x="403" y="290"/><use href="#b" x="402" y="306"/><use href="#b" x="420" y="301"/><use href="#b" x="415" y="299"/><use href="#b" x="416" y="295"/><use href="#b" x="386" y="303"/><use href="#b" x="427" y="304"/><use href="#b" x="417" y="303"/><use href="#b" x="414" y="293"/><use href="#b" x="402" y="296"/><use href="#b" x="388" y="301"/><use href="#b" x="425" y="297"/><use href="#b" x="424" y="306"/><use href="#b" x="425" y="296"/><use href="#b" x="385" y="300"/><use href="#b" x="422" y="304"/><use href="#b" x="400" y="301"/><use href="#b" x="417" y="291"/><use href="#b" x="410" y="305"/><use href="#b" x="416" y="302"/><use href="#b" x="400" y="293"/><use href="#b" x="416" y="295"/><use href="#b" x="417" y="306"/><use href="#b" x="395" y="296"/><use href="#b" x="425" y="302"/><use href="#b" x="422" y="303"/><use href="#b" x="382" y="304"/><use href="#b" x="426" y="301"/><use href="#b" x="393" y="299"/><use href="#b" x="381" y="290"/><use href="#b" x="409" y="298"/><use href="#b" x="424" y="297"/><use href="#b" x="421" y="304"/><use href="#b" x="387" y="299"/><use href="#b" x="423" y="296"/><use href="#b" x="399" y="299"/><use href="#b" x="422" y="297"/><use href="#b" x="423" y="298"/><use href="#b" x="403" y="298"/><use href="#b" x="375" y="303"/><use href="#b" x="384" y="298"/><use href="#b" x="413" y="299"/><use href="#b" x="392" y="298"/><use href="#b" x="404" y="303"/><use href="#b" x="380" y="299"/><use href="#b" x="401" y="299"/><use href="#b" x="415" y="305"/><use href="#b" x="398" y="300"/><use href="#b" x="401" y="298"/><use href="#b" x="411" y="297"/><use href="#b" x="403" y="298"/><use href="#b" x="424" y="301"/><use href="#b" x="421" y="306"/><use href="#b" x="388" y="299"/><use href="#b" x="424" y="304"/><use href="#b" x="410" y="303"/><use href="#b" x="422" y="292"/><use href="#b" x="412" y="301"/><use href="#b" x="382" y="305"/><use href="#b" x="426" y="293"/><use href="#b" x="425" y="296"/><use href="#b" x="400" y="306"/><use href="#b" x="419" y="292"/><use href="#b" x="397" y="298"/><use href="#b" x="392" y="293"/><use href="#b" x="391" y="302"/><use href="#b" x="376" y="299"/><use href="#b" x="398" y="290"/><use href="#b" x="392" y="300"/><use href="#b" x="402" y="291"/><use href="#b" x="427" y="303"/><use href="#b" x="426" y="291"/><use href="#b" x="423" y="303"/><use href="#b" x="388" y="292"/><use href="#b" x="405" y="301"/><use href="#b" x="397" y="291"/><use href="#b" x="424" y="300"/><use href="#b" x="417" y="291"/><use href="#b" x="420" y="291"/><use href="#b" x="420" y="297"/><use href="#b" x="392" y="299"/><use href="#b" x="424" y="294"/><use href="#b" x="381" y="298"/><use href="#b" x="391" y="302"/><use href="#b" x="390" y="298"/><use href="#b" x="404" y="293"/><use href="#b" x="400" y="305"/><use href="#b" x="380" y="303"/><use href="#b" x="397" y="298"/><use href="#b" x="419" y="296"/><use href="#b" x="401" y="301"/><use href="#b" x="427" y="295"/><use href="#b" x="419" y="302"/><use href="#b" x="408" y="296"/><use href="#b" x="393" y="290"/><use href="#b" x="419" y="304"/><use href="#b" x="410" y="294"/><use href="#b" x="383" y="297"/><use href="#b" x="388" y="306"/><use href="#b" x="426" y="299"/><use href="#b" x="387" y="306"/><use href="#b" x="391" y="296"/><use href="#b" x="401" y="293"/><use href="#b" x="401" y="290"/><use href="#b" x="387" y="299"/><use href="#b" x="403" y="302"/><use href="#b" x="409" y="302"/><use href="#b" x="421" y="296"/><use href="#b" x="392" y="306"/><use href="#b" x="382" y="302"/><use href="#b" x="409" y="290"/><use href="#b" x="419" y="305"/><use href="#b" x="408" y="302"/><use href="#b" x="418" y="292"/><use href="#b" x="438" y="298"/><use href="#b" x="444" y="303"/><use href="#b" x="444" y="299"/><use href="#b" x="445" y="301"/><use href="#b" x="441" y="294"/><use href="#b" x="428" y="292"/><use href="#b" x="435" y="292"/><use href="#b" x="444" y="299"/><use href="#b" x="440" y="300"/><use href="#b" x="441" y="298"/><use href="#b" x="428" y="302"/><use href="#b" x="442" y="298"/><use href="#b" x="438" y="300"/><use href="#b" x="429" y="302"/><use href="#b" x="433" y="292"/><use href="#b" x="433" y="301"/><use href="#b" x="432" y="302"/><use href="#b" x="447" y="298"/><use href="#b" x="435" y="298"/><use href="#b" x="441" y="302"/><use href="#b" x="440" y="300"/><use href="#b" x="429" y="293"/><use href="#b" x="433" y="302"/><use href="#b" x="434" y="299"/><use href="#b" x="428" y="291"/><use href="#b" x="433" y="301"/><use href="#b" x="441" y="301"/><use href="#b" x="433" y="298"/><use href="#b" x="437" y="297"/><use href="#b" x="430" y="304"/><use href="#b" x="431" y="305"/><use href="#b" x="446" y="291"/><use href="#b" x="437" y="303"/><use href="#b" x="447" y="297"/><use href="#b" x="433" y="294"/><use href="#b" x="446" y="294"/><use href="#b" x="439" y="293"/><use href="#b" x="438" y="305"/><use href="#b" x="430" y="303"/><use href="#b" x="438" y="304"/><use href="#b" x="442" y="294"/><use href="#b" x="445" y="298"/><use href="#b" x="366" y="294"/><use href="#b" x="369" y="299"/><use href="#b" x="368" y="295"/><use href="#b" x="368" y="297"/><use href="#b" x="371" y="294"/><use href="#o" x="424" y="313"/><use href="#o" x="381" y="308"/><use href="#o" x="437" y="312"/><use href="#o" x="445" y="304"/><use href="#o" x="396" y="305"/><use href="#o" x="388" y="313"/><use href="#o" x="419" y="313"/><use href="#o" x="403" y="312"/><use href="#o" x="409" y="306"/><use href="#o" x="434" y="313"/><use href="#o" x="382" y="309"/><use href="#o" x="422" y="306"/><use href="#o" x="402" y="305"/><use href="#o" x="389" y="306"/><use href="#o" x="420" y="310"/><use href="#o" x="389" y="304"/><use href="#o" x="399" y="310"/><use href="#o" x="388" y="307"/><use href="#o" x="389" y="311"/><use href="#o" x="416" y="304"/><use href="#o" x="381" y="307"/><use href="#o" x="416" y="310"/><use href="#o" x="381" y="305"/><use href="#o" x="428" y="308"/><use href="#o" x="396" y="307"/><use href="#o" x="448" y="307"/><use href="#o" x="418" y="307"/><use href="#o" x="406" y="312"/><use href="#o" x="451" y="307"/><use href="#o" x="389" y="311"/><use href="#o" x="389" y="304"/><use href="#o" x="444" y="308"/><use href="#o" x="437" y="308"/><use href="#o" x="442" y="308"/><use href="#o" x="386" y="304"/><use href="#o" x="417" y="310"/><use href="#o" x="444" y="304"/><use href="#o" x="422" y="307"/><use href="#o" x="413" y="305"/><use href="#o" x="396" y="309"/><use href="#o" x="446" y="305"/><use href="#o" x="412" y="312"/><use href="#o" x="449" y="305"/><use href="#o" x="383" y="313"/><use href="#o" x="450" y="308"/><use href="#o" x="378" y="313"/><use href="#o" x="404" y="313"/><use href="#o" x="422" y="312"/><use href="#o" x="386" y="311"/><use href="#o" x="391" y="308"/><use href="#o" x="433" y="302"/><use href="#o" x="385" y="296"/><use href="#o" x="401" y="299"/><use href="#o" x="400" y="295"/><use href="#o" x="390" y="301"/><use href="#o" x="437" y="294"/><use href="#o" x="413" y="301"/><use href="#o" x="374" y="302"/><use href="#o" x="380" y="299"/><use href="#o" x="412" y="300"/><use href="#o" x="394" y="298"/><use href="#o" x="414" y="298"/><use href="#o" x="420" y="298"/><use href="#o" x="403" y="294"/><use href="#o" x="398" y="289"/><use href="#o" x="382" y="290"/><use href="#o" x="405" y="289"/><use href="#o" x="379" y="289"/><use href="#o" x="376" y="287"/><use href="#o" x="390" y="287"/><use href="#o" x="391" y="289"/><use href="#o" x="373" y="290"/><use href="#o" x="375" y="290"/><use href="#o" x="405" y="289"/><use href="#o" x="374" y="289"/><use href="#o" x="388" y="291"/><use href="#o" x="377" y="291"/><use href="#o" x="414" y="290"/><use href="#o" x="385" y="288"/><use href="#o" x="387" y="289"/><use href="#o" x="387" y="290"/><use href="#o" x="375" y="289"/><use href="#o" x="386" y="288"/><use href="#o" x="378" y="289"/><use href="#o" x="375" y="290"/><use href="#o" x="377" y="290"/></g><rect x="370" y="30" width="1" height="321" fill="#5F6C1C"/><text x="49.4" y="368" font-family="DejaVu Sans, sans-serif" font-size="11" fill="#5B6216" text-anchor="middle">-40</text><text x="89.4" y="368" font-family="DejaVu Sans, sans-serif" font-size="11" fill="#5B6216" text-anchor="middle">-35</text><text x="129.4" y="368" font-family="DejaVu Sans, sans-serif" font-size="11" fill="#5B6216" text-anchor="middle">-30</text><text x="169.4" y="368" font-family="DejaVu Sans, sans-serif" font-size="11" fill="#5B6216" text-anchor="middle">-25</text><text x="209.4" y="368" font-family="DejaVu Sans, sans-serif" font-size="11" fill="#5B6216" text-anchor="middle">-20</text><text x="249.4" y="368" font-family="DejaVu Sans, sans-serif" font-size="11" fill="#5B6216" text-anchor="middle">-15</text><text x="289.4" y="368" font-family="DejaVu Sans, sans-serif" font-size="11" fill="#5B6216" text-anchor="middle">-10</text><text x="329.4" y="368" font-family="DejaVu Sans, sans-serif" font-size="11" fill="#5B6216" text-anchor="middle">-5</text><text x="369.4" y="368" font-family="DejaVu Sans, sans-serif" font-size="11" fill="#5B6216" text-anchor="middle">0</text><text x="409.4" y="368" font-family="DejaVu Sans, sans-serif" font-size="11" fill="#5B6216" text-anchor="middle">5</text><text x="449.4" y="368" font-family="DejaVu Sans, sans-serif" font-size="11" fill="#5B6216" text-anchor="middle">10</text><text x="489.4" y="368" font-family="DejaVu Sans, sans-serif" font-size="11" fill="#5B6216" text-anchor="middle">15</text><text x="529.4" y="368" font-family="DejaVu Sans, sans-serif" font-size="11" fill="#5B6216" text-anchor="middle">20</text><text x="569.4" y="368" font-family="DejaVu Sans, sans-serif" font-size="11" fill="#5B6216" text-anchor="middle">25</text><text x="609.4" y="368" font-family="DejaVu Sans, sans-serif" font-size="11" fill="#5B6216" text-anchor="middle">30</text><text x="649.4" y="368" font-family="DejaVu Sans, sans-serif" font-size="11" fill="#5B6216" text-anchor="middle">35</text><text x="689.4" y="368" font-family="DejaVu Sans, sans-serif" font-size="11" fill="#5B6216" text-anchor="middle">40</text><text x="362" y="34" font-family="DejaVu Sans, sans-serif" font-size="11" fill="#5B6216" text-anchor="end">53</text><text x="362" y="63" font-family="DejaVu Sans, sans-serif" font-size="11" fill="#5B6216" text-anchor="end">48</text><text x="362" y="92" font-family="DejaVu Sans, sans-serif" font-size="11" fill="#5B6216" text-anchor="end">43</text><text x="362" y="121" font-family="DejaVu Sans, sans-serif" font-size="11" fill="#5B6216" text-anchor="end">38</text><text x="362" y="150" font-family="DejaVu Sans, sans-serif" font-size="11" fill="#5B6216" text-anchor="end">33</text><text x="362" y="179" font-family="DejaVu Sans, sans-serif" font-size="11" fill="#5B6216" text-anchor="end">28</text><text x="362" y="209" font-family="DejaVu Sans, sans-serif" font-size="11" fill="#5B6216" text-anchor="end">23</text><text x="362" y="238" font-family="DejaVu Sans, sans-serif" font-size="11" fill="#5B6216" text-anchor="end">18</text><text x="362" y="267" font-family="DejaVu Sans, sans-serif" font-size="11" fill="#5B6216" text-anchor="end">13</text><text x="362" y="296" font-family="DejaVu Sans, sans-serif" font-size="11" fill="#5B6216" text-anchor="end">8</text><text x="362" y="325" font-family="DejaVu Sans, sans-serif" font-size="11" fill="#5B6216" text-anchor="end">3</text><text x="362" y="354" font-family="DejaVu Sans, sans-serif" font-size="11" fill="#5B6216" text-anchor="end">3</text><text x="360" y="14" font-family="DejaVu Sans, sans-serif" font-size="12.9" fill="#5B6216" text-anchor="middle">VITESSE vs PENTE</text><text x="663" y="384" font-family="DejaVu Sans, sans-serif" font-size="11" fill="#5B6216" text-anchor="middle">Pente [%]</text><text transform="translate(342,189.7) rotate(-90)" font-family="DejaVu Sans, sans-serif" font-size="11.3" fill="#5B6216" text-anchor="middle">Vitesse [km/h]</text></svg></body></html>
